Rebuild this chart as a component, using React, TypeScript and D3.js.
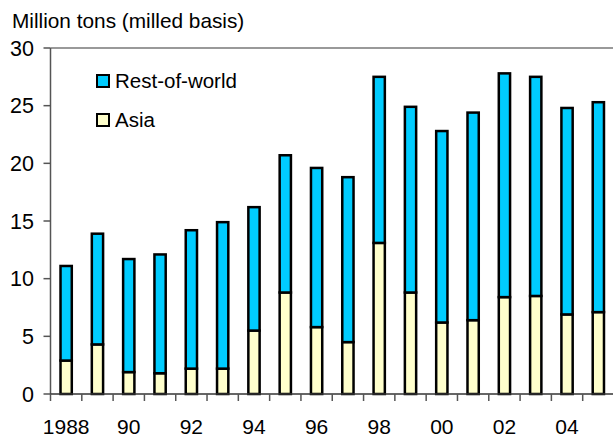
import React from "react";
import * as d3 from "d3";

const years = [1988, 1989, 1990, 1991, 1992, 1993, 1994, 1995, 1996, 1997, 1998, 1999, 2000, 2001, 2002, 2003, 2004, 2005];
const asia = [2.9, 4.3, 1.9, 1.8, 2.2, 2.2, 5.5, 8.8, 5.8, 4.5, 13.1, 8.8, 6.2, 6.4, 8.4, 8.5, 6.9, 7.1];
const restOfWorld = [8.2, 9.6, 9.8, 10.3, 12.0, 12.7, 10.7, 11.9, 13.8, 14.3, 14.4, 16.1, 16.6, 18.0, 19.4, 19.0, 17.9, 18.2];
const yTicks = [0, 5, 10, 15, 20, 25, 30];
const xLabels = ["1988", "", "90", "", "92", "", "94", "", "96", "", "98", "", "00", "", "02", "", "04", ""];
const seriesNames = ["Asia", "Rest-of-world"];
const seriesColors = ["#FFFFCC", "#00CCFF"];

const W = 613;
const H = 437;
const left = 50.5;
const right = 614;
const top = 48;
const bottom = 394;
const FONT = "'Liberation Sans', Arial, sans-serif";

export default function App() {
  const x = d3.scaleBand<number>().domain(d3.range(years.length)).range([left, right]).paddingInner(0.64).paddingOuter(0.32);
  const y = d3.scaleLinear().domain([0, 30]).range([bottom, top]);
  const step = x.step();
  const rows = years.map((yr, i) => ({ i, Asia: asia[i], "Rest-of-world": restOfWorld[i] }));
  const stacked = d3.stack<any>().keys(seriesNames)(rows);

  return (
    <svg width={W} height={H} style={{ position: "absolute", left: 0, top: 0, background: "#fff" }} fontFamily={FONT}>
      <text x={12} y={28} fontSize={20.8} fill="#000">Million tons (milled basis)</text>
      {/* top border */}
      <line x1={left} x2={W} y1={top} y2={top} stroke="#999" strokeWidth={2} />
      {/* bars */}
      {stacked.map((s, si) => (
        <g key={s.key}>
          {s.map((d, i) => (
            <rect
              key={i}
              x={x(i)!}
              y={y(d[1])}
              width={x.bandwidth()}
              height={y(d[0]) - y(d[1])}
              fill={seriesColors[si]}
              stroke="#000"
              strokeWidth={2.5}
            />
          ))}
        </g>
      ))}
      {/* y axis */}
      <line x1={left} x2={left} y1={top} y2={bottom} stroke="#555" strokeWidth={1.5} />
      {yTicks.map((t) => (
        <g key={t}>
          <line x1={left - 7} x2={left} y1={y(t)} y2={y(t)} stroke="#555" strokeWidth={1.5} />
          <text x={34} y={y(t)} dy="0.36em" textAnchor="end" fontSize={21.5} fill="#000">{t}</text>
        </g>
      ))}
      {/* x axis */}
      <line x1={left} x2={W} y1={bottom} y2={bottom} stroke="#333" strokeWidth={1.5} />
      {d3.range(years.length + 1).map((i) => (
        <line key={i} x1={left + i * step} x2={left + i * step} y1={bottom} y2={bottom + 7} stroke="#555" strokeWidth={1.5} />
      ))}
      {xLabels.map((lab, i) =>
        lab ? (
          <text key={i} x={x(i)! + x.bandwidth() / 2} y={434} textAnchor="middle" fontSize={21} fill="#000">{lab}</text>
        ) : null
      )}
      {/* legend */}
      {[1, 0].map((si, k) => (
        <g key={si} transform={`translate(97, ${75 + k * 39})`}>
          <rect x={0} y={0} width={12} height={12} fill={seriesColors[si]} stroke="#000" strokeWidth={2} />
          <text x={18} y={6} dy="0.36em" fontSize={20.5} fill="#000">{seriesNames[si]}</text>
        </g>
      ))}
    </svg>
  );
}
